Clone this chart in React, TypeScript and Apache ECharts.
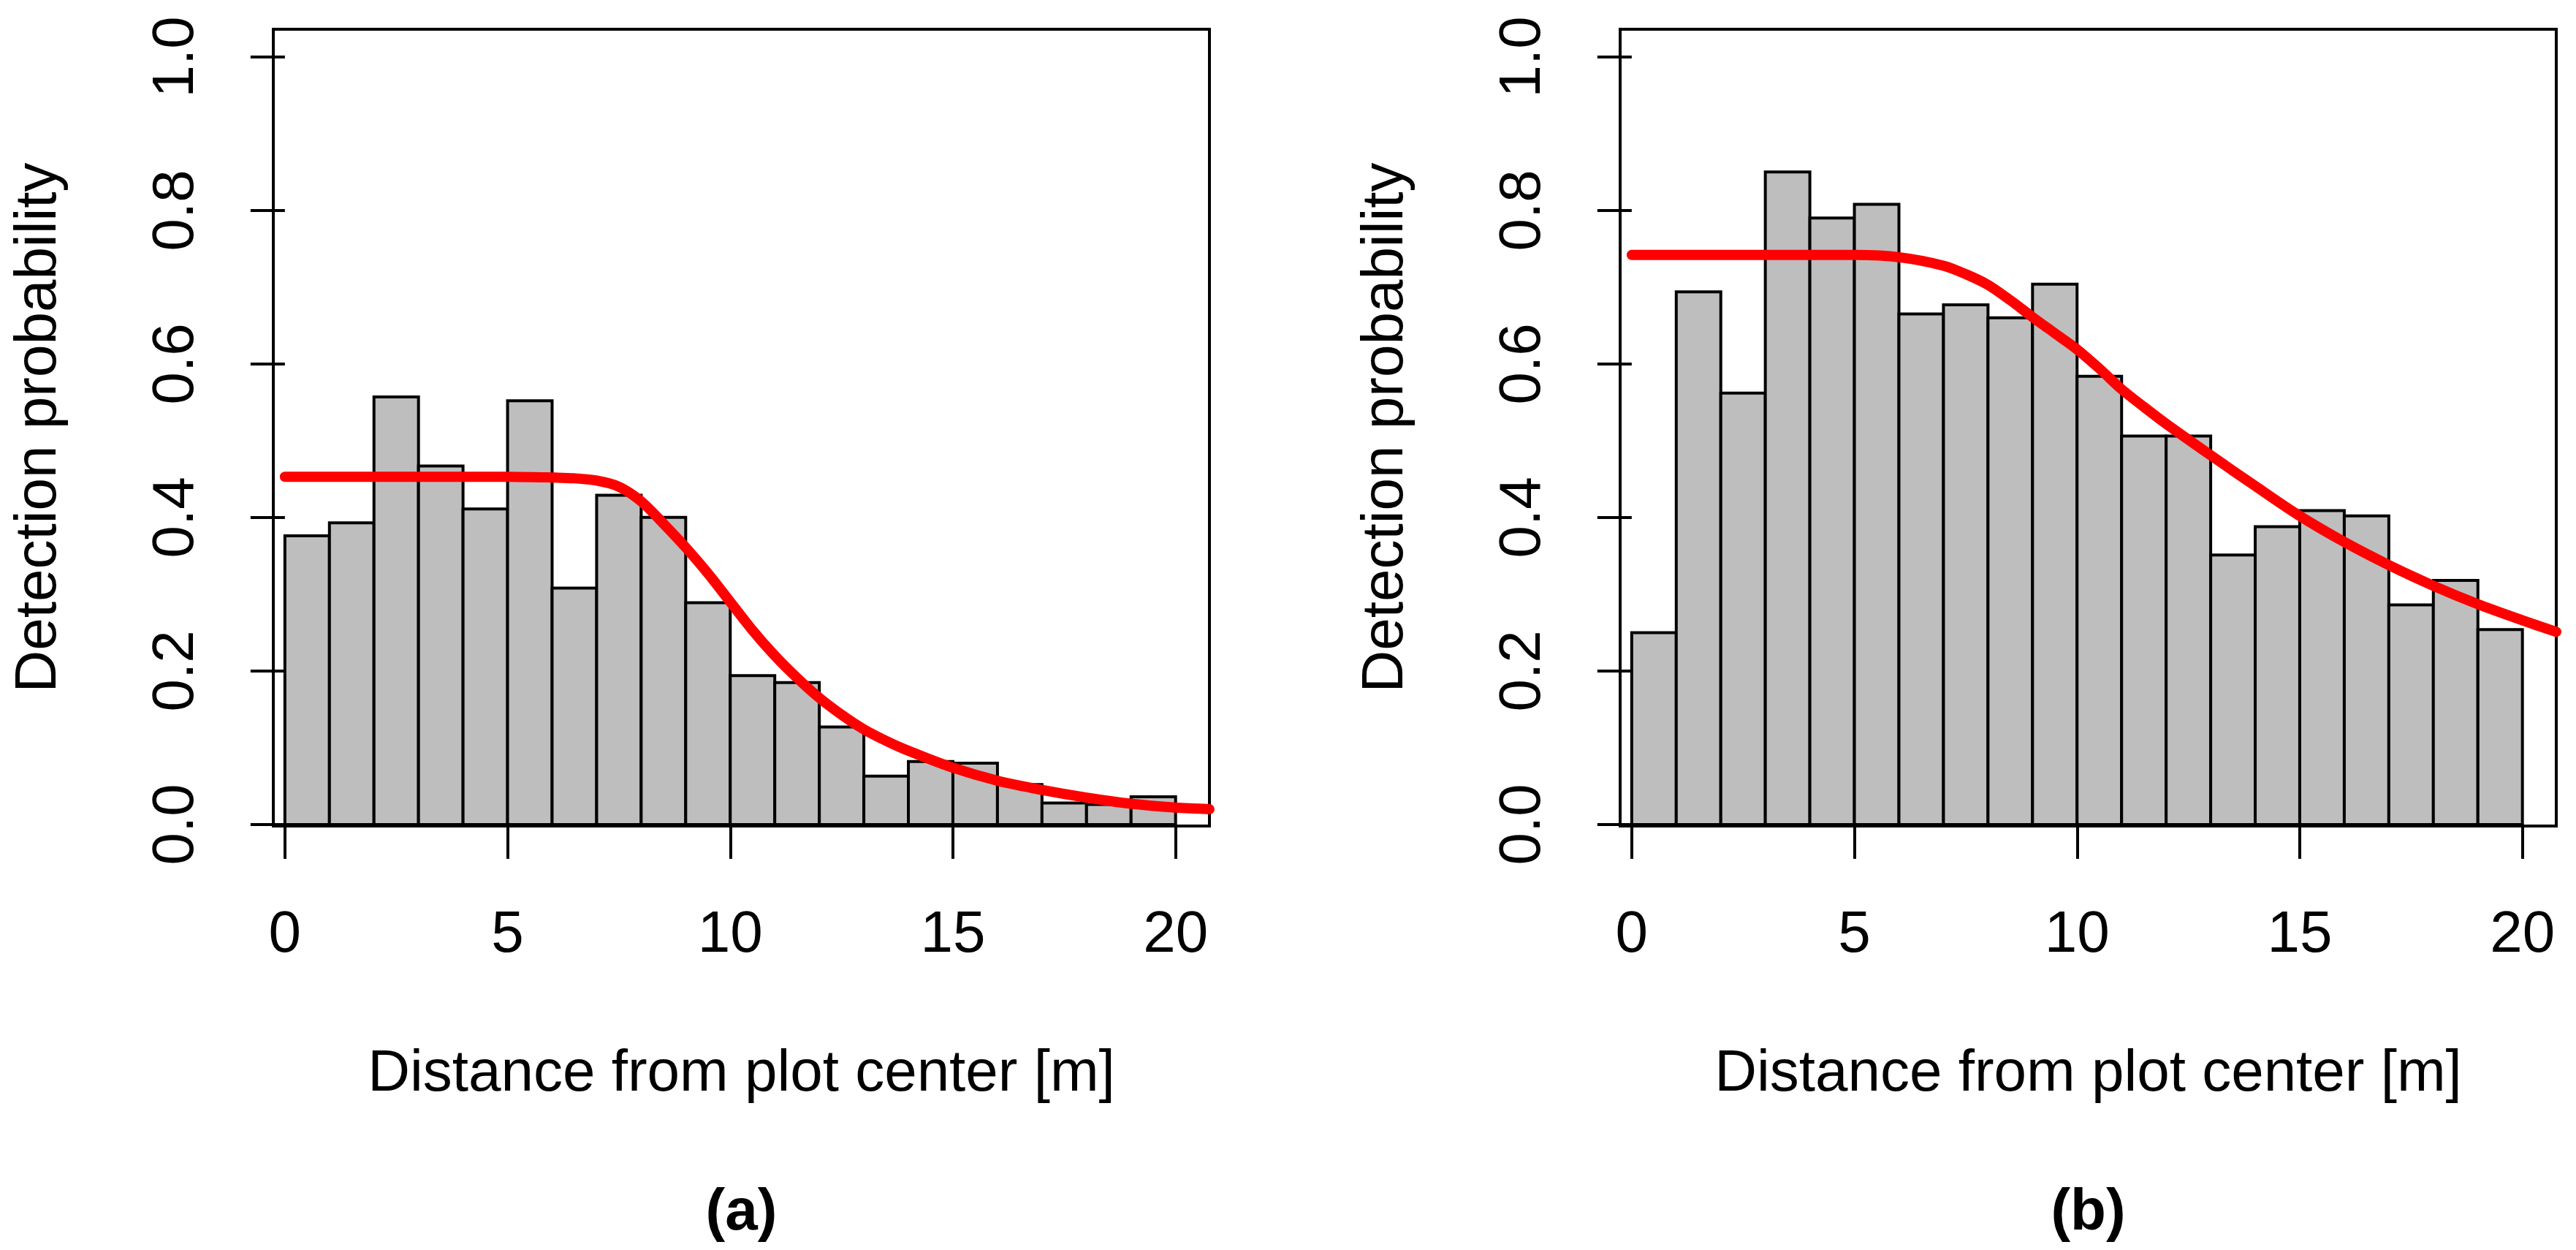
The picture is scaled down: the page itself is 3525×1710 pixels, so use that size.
import { useEffect, useRef } from "react";
import * as echarts from "echarts";

// histogram bin edges (m) and detection rates per bin
const breaks = [0, 1, 2, 3, 4, 5, 6, 7, 8, 9, 10, 11, 12, 13, 14, 15, 16, 17, 18, 19, 20];
const detectionA = [
  0.376, 0.393, 0.557, 0.467, 0.411, 0.552, 0.308, 0.429, 0.4, 0.289,
  0.194, 0.185, 0.127, 0.063, 0.082, 0.08, 0.052, 0.028, 0.026, 0.036,
];
const detectionB = [
  0.25, 0.694, 0.562, 0.85, 0.79, 0.808, 0.665, 0.677, 0.66, 0.704,
  0.584, 0.506, 0.506, 0.351, 0.388, 0.409, 0.402, 0.286, 0.318, 0.254,
];

// fitted detection functions
const fitXA = [0, 1, 2, 3, 4, 5, 6, 6.5, 7, 7.5, 8, 8.5, 9, 9.5, 10, 10.5, 11, 11.5, 12, 12.5, 13, 13.5, 14, 15, 16, 17, 18, 19, 20, 20.76];
const fitYA = [
  0.453, 0.453, 0.453, 0.453, 0.453, 0.453, 0.452, 0.451, 0.448, 0.440, 0.421, 0.392, 0.361, 0.327, 0.29,
  0.253, 0.22, 0.191, 0.165, 0.143, 0.124, 0.109, 0.096, 0.074, 0.057, 0.045, 0.035, 0.027, 0.022, 0.02,
];
const fitXB = [0, 1, 2, 3, 4, 5, 6, 7, 7.5, 8, 8.5, 9, 9.5, 10, 10.5, 11, 11.5, 12, 13, 14, 15, 16, 17, 18, 19, 20, 20.76];
const fitYB = [
  0.742, 0.742, 0.742, 0.742, 0.742, 0.742, 0.739, 0.728, 0.717, 0.703, 0.683, 0.661, 0.64, 0.619,
  0.594, 0.567, 0.544, 0.522, 0.481, 0.441, 0.402, 0.368, 0.338, 0.311, 0.287, 0.266, 0.251,
];

const xTicks = [0, 5, 10, 15, 20];
const yTicks = [0, 0.2, 0.4, 0.6, 0.8, 1.0];
const panelTags = ["(a)", "(b)"];
const xTitle = "Distance from plot center [m]";
const yTitle = "Detection probability";

const FONT = "'Liberation Sans', Arial, Helvetica, sans-serif";
const gridLefts = [374, 2217];
const gridTop = 40;
const gridW = 1281;
const gridH = 1090;

export default function App() {
  const chartRef = useRef<HTMLDivElement>(null);

  useEffect(() => {
    if (!chartRef.current) return;
    const chart = echarts.init(chartRef.current, undefined, { renderer: "svg" });

    const panels = [
      { bins: detectionA, fx: fitXA, fy: fitYA },
      { bins: detectionB, fx: fitXB, fy: fitYB },
    ];

    const axisText = { color: "#000", fontSize: 80, fontFamily: FONT };

    chart.setOption({
      animation: false,
      backgroundColor: "#fff",
      grid: gridLefts.map((left) => ({
        left,
        top: gridTop,
        width: gridW,
        height: gridH,
        show: true,
        borderColor: "#000",
        borderWidth: 4,
        backgroundColor: "transparent",
      })),
      xAxis: panels.map((_, i) => ({
        type: "value",
        gridIndex: i,
        min: -0.26,
        max: 20.76,
        name: xTitle,
        nameLocation: "middle",
        nameGap: 294,
        nameTextStyle: axisText,
        axisLine: { show: false },
        splitLine: { show: false },
        axisTick: {
          show: true,
          inside: false,
          length: 47,
          customValues: xTicks,
          lineStyle: { color: "#000", width: 4 },
        },
        axisLabel: {
          ...axisText,
          margin: 104,
          customValues: xTicks,
          formatter: (v: number) => String(v),
        },
      })),
      yAxis: panels.map((_, i) => ({
        type: "value",
        gridIndex: i,
        min: -0.002,
        max: 1.036,
        name: yTitle,
        nameLocation: "middle",
        nameRotate: 90,
        nameGap: 286,
        nameTextStyle: axisText,
        axisLine: { show: false },
        splitLine: { show: false },
        axisTick: {
          show: true,
          inside: false,
          length: 47,
          customValues: yTicks,
          lineStyle: { color: "#000", width: 4 },
        },
        axisLabel: {
          ...axisText,
          rotate: 90,
          margin: 98,
          customValues: yTicks,
          formatter: (v: number) => v.toFixed(1),
        },
      })),
      series: panels.flatMap((p, i) => [
        {
          type: "custom",
          xAxisIndex: i,
          yAxisIndex: i,
          data: p.bins.map((v, k) => [breaks[k], breaks[k + 1], v]),
          encode: { x: [0, 1], y: 2 },
          renderItem: (_params: any, api: any) => {
            const top = api.coord([api.value(0), api.value(2)]);
            const base = api.coord([api.value(1), 0]);
            return {
              type: "rect",
              shape: {
                x: top[0],
                y: top[1],
                width: base[0] - top[0],
                height: base[1] - top[1],
              },
              style: { fill: "#BEBEBE", stroke: "#000", lineWidth: 4 },
            };
          },
          z: 2,
        },
        {
          type: "line",
          xAxisIndex: i,
          yAxisIndex: i,
          data: p.fx.map((x, k) => [x, p.fy[k]]),
          smooth: 0.3,
          showSymbol: false,
          symbol: "none",
          lineStyle: { color: "#FF0000", width: 14, cap: "round", join: "round" },
          z: 3,
        },
      ]),
      graphic: panelTags.map((t, i) => ({
        type: "text",
        x: gridLefts[i] + gridW / 2,
        y: 1654,
        style: {
          text: t,
          fontSize: 80,
          fontWeight: "bold",
          fontFamily: FONT,
          fill: "#000",
          align: "center",
          verticalAlign: "middle",
        },
      })),
    });

    return () => {
      chart.dispose();
    };
  }, []);

  return (
    <div
      ref={chartRef}
      style={{ position: "fixed", left: 0, top: 0, width: 3525, height: 1710, background: "#fff" }}
    />
  );
}
